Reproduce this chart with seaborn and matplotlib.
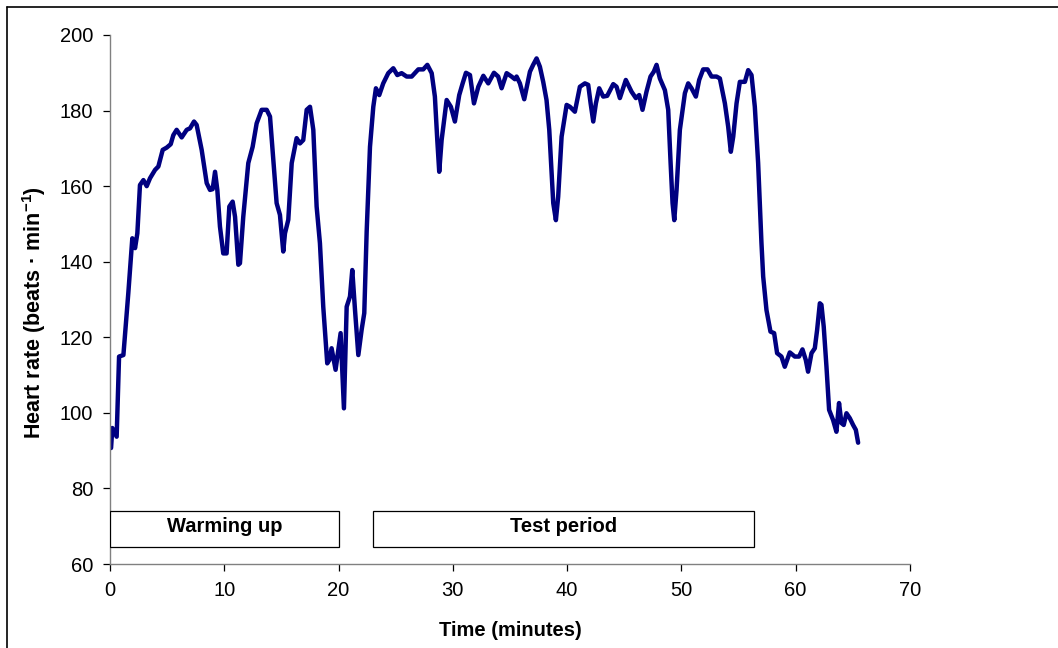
import pandas as pd
import seaborn as sns
import matplotlib.pyplot as plt
from matplotlib.patches import Rectangle
from matplotlib.lines import Line2D

# heart rate trace (minutes, beats/min)
minutes = [0.09, 0.2, 0.58, 0.79, 1.17, 1.6, 1.95, 2.19, 2.39, 2.62, 2.92, 3.21, 3.5, 3.94,
           4.23, 4.61, 4.96, 5.31, 5.54, 5.83, 6.27, 6.71, 7.0, 7.35, 7.58, 8.02, 8.46, 8.75,
           8.98, 9.19, 9.39, 9.62, 9.91, 10.2, 10.44, 10.73, 10.94, 11.23, 11.37, 11.66, 12.1,
           12.48, 12.83, 13.27, 13.71, 14.0, 14.29, 14.58, 14.87, 15.16, 15.31, 15.6, 15.9,
           16.33, 16.62, 16.91, 17.21, 17.5, 17.79, 18.08, 18.37, 18.66, 19.01, 19.19, 19.39,
           19.74, 20.18, 20.47, 20.71, 21.0, 21.2, 21.44, 21.73, 22.02, 22.25, 22.46, 22.75,
           23.04, 23.27, 23.56, 23.91, 24.35, 24.79, 25.14, 25.52, 25.96, 26.4, 26.98, 27.41,
           27.77, 28.15, 28.43, 28.64, 28.81, 29.02, 29.46, 29.83, 30.18, 30.56, 30.86, 31.15,
           31.5, 31.85, 32.23, 32.67, 33.1, 33.6, 33.97, 34.27, 34.71, 35.14, 35.43, 35.58,
           35.87, 36.25, 36.75, 37.03, 37.33, 37.62, 37.91, 38.2, 38.44, 38.79, 39.02, 39.22,
           39.52, 39.96, 40.25, 40.68, 41.12, 41.56, 41.85, 42.06, 42.29, 42.52, 42.81, 43.16,
           43.51, 44.04, 44.33, 44.62, 45.14, 45.64, 46.02, 46.31, 46.6, 46.95, 47.3, 47.59,
           47.83, 48.12, 48.56, 48.85, 49.06, 49.23, 49.38, 49.58, 49.87, 50.31, 50.6, 50.89,
           51.27, 51.56, 51.91, 52.29, 52.64, 53.08, 53.37, 53.81, 54.1, 54.33, 54.54, 54.83,
           55.12, 55.56, 55.85, 56.14, 56.43, 56.72, 57.01, 57.16, 57.45, 57.8, 58.12, 58.38,
           58.76, 59.05, 59.49, 59.93, 60.3, 60.6, 60.89, 61.09, 61.39, 61.68, 61.88, 62.12,
           62.26, 62.46, 62.7, 62.93, 63.28, 63.57, 63.8, 64.01, 64.21, 64.45, 64.74, 65.03,
           65.27, 65.47]
heart_rate = [90.7, 96, 93.7, 114.9, 115.3, 131.7, 146.2, 143.6, 147.5, 160.3, 161.6, 160, 162.1,
              164.3, 165.2, 169.6, 170.2, 171.1, 173.5, 174.9, 172.9, 174.9, 175.3, 177.1, 176.2,
              169.6, 160.8, 159, 159.2, 163.8, 159, 149.3, 142.2, 142.2, 154.6, 155.9, 151.9,
              139.2, 139.6, 151.9, 166.1, 170.4, 176.6, 180.2, 180.2, 178.4, 166.9, 155.5, 152.4,
              142.7, 147.5, 151.1, 166.1, 172.7, 171.3, 172.2, 180.2, 181, 174.9, 154.6, 144.9,
              128.1, 113.1, 114, 117.1, 111.4, 121.1, 101.2, 128.1, 130.8, 137.8, 127.2, 115.3,
              122, 126.4, 148, 170.4, 181, 185.9, 184.1, 187.2, 189.9, 191.2, 189.4, 189.9, 189,
              189, 190.9, 190.9, 192.1, 189.9, 183.7, 172.2, 163.8, 172.2, 182.8, 181, 177.1,
              184.1, 187.2, 190, 189.4, 181.9, 186.3, 189.2, 187.2, 190, 189, 185.9, 189.9, 189,
              188.3, 189, 187.2, 183, 190.3, 192.1, 193.8, 191.6, 187.6, 182.8, 174.9, 155.5,
              151, 157.2, 173.1, 181.5, 181, 179.7, 186.3, 187.2, 186.8, 181.9, 177.1, 181.9,
              185.9, 183.7, 183.9, 187, 186.3, 183.3, 188.1, 185, 183.3, 184.1, 180.2, 185, 189,
              190.3, 192.1, 188.5, 185.4, 180.2, 166.1, 155.5, 151, 159, 174.9, 184.6, 187.2,
              185.9, 183.7, 188.1, 190.9, 190.9, 189, 189, 188.5, 181.9, 175.7, 169.1, 173.1,
              181.9, 187.6, 187.6, 190.7, 189.4, 181, 166.1, 145, 136.1, 127.2, 121.5, 121.1,
              115.8, 114.9, 112.2, 116, 114.9, 114.9, 116.8, 114, 110.9, 115.8, 117.1, 121.9,
              129, 128.6, 122.8, 112.2, 100.8, 98.1, 95, 102.6, 97.3, 96.8, 99.9, 98.6, 96.8,
              95.5, 92.1]

# phases shown as boxes along the bottom
phase_names = ['Warming up', 'Test period']
phase_start = [0, 23]
phase_end = [20, 56.4]

df = pd.DataFrame({'Time': minutes, 'HR': heart_rate})

sns.set_style('ticks')
plt.rcParams['font.family'] = ['Liberation Sans', 'DejaVu Sans']
plt.rcParams['text.color'] = 'black'
plt.rcParams['axes.labelcolor'] = 'black'
plt.rcParams['xtick.labelcolor'] = 'black'
plt.rcParams['ytick.labelcolor'] = 'black'
plt.rcParams['mathtext.fontset'] = 'custom'
plt.rcParams['mathtext.rm'] = 'Liberation Sans:bold'
plt.rcParams['mathtext.bf'] = 'Liberation Sans:bold'

fig = plt.figure(figsize=(10.58, 6.48), dpi=100)
ax = fig.add_axes([0.104, 0.1296, 0.756, 0.8164])

sns.lineplot(data=df, x='Time', y='HR', ax=ax, color='#000080', linewidth=3.2,
             sort=False, estimator=None)
ax.lines[0].set_solid_joinstyle('round')
ax.lines[0].set_solid_capstyle('round')

for name, s, e in zip(phase_names, phase_start, phase_end):
    ax.add_patch(Rectangle((s, 64.6), e - s, 9.3, facecolor='white',
                           edgecolor='black', linewidth=0.9, zorder=3))
    ax.text((s + e) / 2, 69.8, name, ha='center', va='center',
            fontsize=14.5, fontweight='bold', zorder=4)

ax.set_xlim(0, 70)
ax.set_ylim(60, 200)
ax.set_xticks(range(0, 71, 10))
ax.set_yticks(range(60, 201, 20))
ax.tick_params(labelsize=14.5, length=5, width=0.9, color='black', pad=7)
sns.despine(ax=ax)
for sp in ['left', 'bottom']:
    ax.spines[sp].set_color('#808080')
    ax.spines[sp].set_linewidth(1.0)

ax.set_xlabel('Time (minutes)', fontsize=14.5, fontweight='bold', labelpad=15)
ax.set_ylabel(r'Heart rate (beats · min$^{\mathrm{-1}}$)', fontsize=15.5,
              fontweight='bold')
ax.yaxis.set_label_coords(-0.077, 0.475)

# outer frame: top and left edges only
fig.add_artist(Line2D([7 / 1058, 1], [1 - 7 / 648, 1 - 7 / 648], color='black',
                      linewidth=1.2, transform=fig.transFigure))
fig.add_artist(Line2D([7 / 1058, 7 / 1058], [0, 1 - 7 / 648], color='black',
                      linewidth=1.2, transform=fig.transFigure))

fig.savefig('out.png', dpi=100)
